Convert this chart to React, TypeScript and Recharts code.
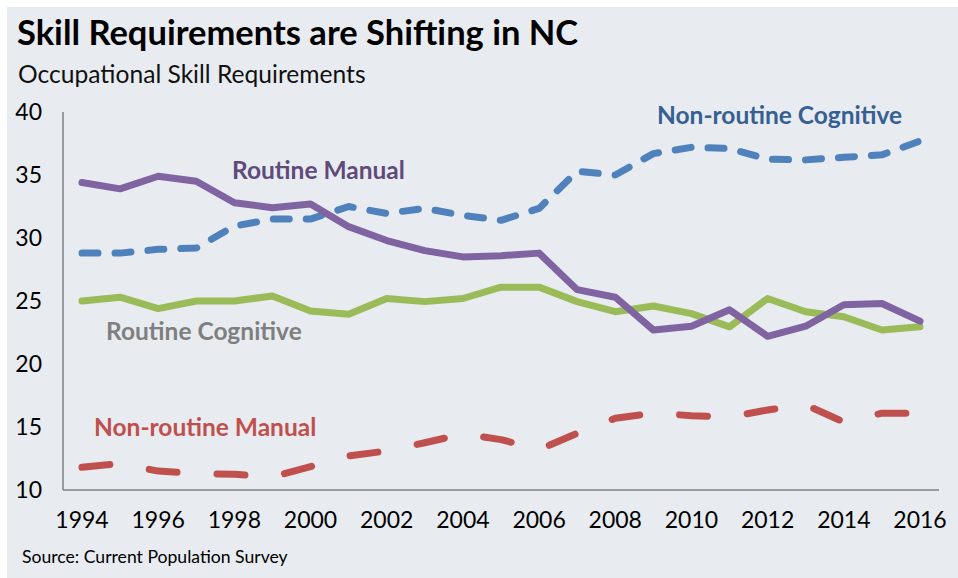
import { Line, LineChart, XAxis, YAxis } from 'recharts';

const years = [
  '1994', '1995', '1996', '1997', '1998', '1999', '2000', '2001', '2002', '2003', '2004', '2005',
  '2006', '2007', '2008', '2009', '2010', '2011', '2012', '2013', '2014', '2015', '2016',
];
const routineManual = [
  34.4, 33.9, 34.9, 34.5, 32.8, 32.4, 32.7, 30.9, 29.8, 29.0, 28.5, 28.6, 28.8, 25.9, 25.3, 22.7, 23.0,
  24.3, 22.2, 23.0, 24.7, 24.8, 23.4,
];
const routineCognitive = [
  25.0, 25.3, 24.4, 25.0, 25.0, 25.4, 24.2, 23.95, 25.2, 24.95, 25.2, 26.1, 26.1, 24.95, 24.15, 24.6,
  24.0, 22.95, 25.2, 24.15, 23.75, 22.7, 22.95,
];
const nonRoutineCognitive = [
  28.8, 28.8, 29.1, 29.2, 30.95, 31.5, 31.5, 32.5, 31.95, 32.35, 31.8, 31.4, 32.35, 35.3, 35.0, 36.7,
  37.2, 37.1, 36.25, 36.2, 36.4, 36.6, 37.7,
];
const nonRoutineManual = [
  11.8, 12.1, 11.5, 11.3, 11.25, 11.05, 11.85, 12.7, 13.1, 13.75, 14.45, 14.0, 13.2, 14.5, 15.7, 16.1,
  15.9, 15.8, 16.35, 16.75, 15.4, 16.1, 16.1,
];
const yTicks = [10, 15, 20, 25, 30, 35, 40];

const font = 'Lato, "Open Sans", sans-serif';

// series names sit on the plot, next to their lines
const seriesLabels = [
  { text: 'Non-routine Cognitive', color: '#376092', left: 657, top: 103 },
  { text: 'Routine Manual', color: '#604A7B', left: 232, top: 158 },
  { text: 'Routine Cognitive', color: '#7F7F7F', left: 106, top: 319 },
  { text: 'Non-routine Manual', color: '#C0504D', left: 94, top: 415 },
];

export default function App() {
  const data = years.map((year, i) => ({
    year,
    routineManual: routineManual[i],
    routineCognitive: routineCognitive[i],
    nonRoutineCognitive: nonRoutineCognitive[i],
    nonRoutineManual: nonRoutineManual[i],
  }));

  return (
    <div style={{ position: 'absolute', left: 0, top: 0, width: 958, height: 578, background: '#fff', fontFamily: font, lineHeight: 1 }}>
      <div style={{ position: 'absolute', left: 7, top: 7, right: 0, bottom: 0, background: '#E8ECF0' }} />
      <div style={{ position: 'absolute', left: 17, top: 15, fontSize: 34.5, fontWeight: 700, color: '#000', whiteSpace: 'nowrap' }}>
        Skill Requirements are Shifting in NC
      </div>
      <div style={{ position: 'absolute', left: 18, top: 62, fontSize: 24.6, color: '#111', whiteSpace: 'nowrap' }}>
        Occupational Skill Requirements
      </div>
      <div style={{ position: 'absolute', left: 0, top: 0 }}>
        <LineChart width={958} height={578} data={data} margin={{ top: 112, right: 19, left: 18, bottom: 48 }}>
          <XAxis
            dataKey="year"
            interval={1}
            padding={{ left: 19, right: 19 }}
            tickLine={false}
            tickSize={0}
            tickMargin={22}
            height={40}
            axisLine={{ stroke: '#808080', strokeWidth: 1.5 }}
            tick={{ fontSize: 23, fill: '#000', fontFamily: font }}
          />
          <YAxis
            domain={[10, 40]}
            ticks={yTicks}
            width={45}
            tickLine={false}
            tickSize={0}
            tickMargin={21}
            axisLine={{ stroke: '#808080', strokeWidth: 1.5 }}
            tick={{ fontSize: 23, fill: '#000', fontFamily: font }}
          />
          <Line
            dataKey="routineCognitive"
            stroke="#9BBB59"
            strokeWidth={7}
            dot={false}
            strokeLinejoin="round"
            strokeLinecap="round"
            isAnimationActive={false}
          />
          <Line
            dataKey="nonRoutineManual"
            stroke="#C0504D"
            strokeWidth={7}
            strokeDasharray="28 40"
            strokeLinecap="round"
            strokeLinejoin="round"
            dot={false}
            isAnimationActive={false}
          />
          <Line
            dataKey="nonRoutineCognitive"
            stroke="#4F81BD"
            strokeWidth={7}
            strokeDasharray="16 17"
            strokeLinecap="round"
            strokeLinejoin="round"
            dot={false}
            isAnimationActive={false}
          />
          <Line
            dataKey="routineManual"
            stroke="#8064A2"
            strokeWidth={7}
            strokeLinejoin="round"
            strokeLinecap="round"
            dot={false}
            isAnimationActive={false}
          />
        </LineChart>
      </div>
      {seriesLabels.map((l) => (
        <div
          key={l.text}
          style={{ position: 'absolute', left: l.left, top: l.top, fontSize: 24.5, fontWeight: 700, color: l.color, whiteSpace: 'nowrap' }}
        >
          {l.text}
        </div>
      ))}
      <div style={{ position: 'absolute', left: 22, top: 548, fontSize: 17.6, color: '#000', whiteSpace: 'nowrap' }}>
        Source: Current Population Survey
      </div>
    </div>
  );
}
